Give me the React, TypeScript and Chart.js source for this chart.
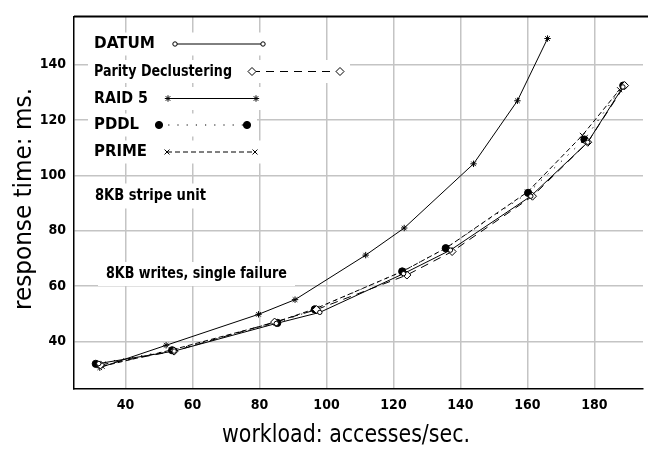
import React, { useEffect, useRef } from "react";
import { Chart, registerables } from "chart.js";
import { drawPoint } from "chart.js/helpers";

Chart.register(...registerables);

// ---- data ----
const SERIES_NAMES = ["DATUM", "Parity Declustering", "RAID 5", "PDDL", "PRIME"];

const datumX = [32.0, 54.5, 85.0, 98.0, 123.0, 137.0, 161.0, 178.0, 188.5];
const datumY = [32.0, 36.5, 46.5, 50.5, 64.5, 73.0, 92.5, 112.0, 132.0];

const parityX = [32.5, 54.5, 84.5, 97.0, 124.0, 137.5, 161.5, 178.0, 189.0];
const parityY = [31.5, 36.5, 47.0, 51.5, 64.0, 72.5, 92.5, 112.0, 132.5];

const raid5X = [32.3, 52.1, 79.7, 90.6, 111.7, 123.2, 143.9, 157.0, 166.0];
const raid5Y = [30.5, 38.6, 49.8, 55.1, 71.2, 81.0, 104.2, 127.0, 149.5];

const pddlX = [31.1, 53.9, 85.3, 96.5, 122.6, 135.6, 160.2, 177.0, 188.6];
const pddlY = [31.9, 36.8, 46.7, 51.6, 65.3, 73.7, 93.7, 113.0, 132.5];

const primeX = [33.0, 54.0, 85.0, 97.0, 123.0, 136.0, 160.0, 176.4, 187.5];
const primeY = [31.0, 37.0, 47.0, 52.0, 65.5, 74.0, 94.0, 114.5, 131.0];

const xTicks = [40, 60, 80, 100, 120, 140, 160, 180];
const yTicks = [40, 60, 80, 100, 120, 140];

const X_TITLE = "workload: accesses/sec.";
const Y_TITLE = "response time: ms.";
const NOTE_1 = "8KB stripe unit";
const NOTE_2 = "8KB writes, single failure";

const FONT = '"Liberation Sans Narrow", "DejaVu Sans Condensed", "Liberation Sans", sans-serif';

const zip = (xs: number[], ys: number[]) => xs.map((x, i) => ({ x, y: ys[i] }));

const STYLES = [
  { pointStyle: "circle", radius: 2.2, dash: [] as number[], fill: "#ffffff" },
  { pointStyle: "rectRot", radius: 4, dash: [8, 6], fill: "#ffffff" },
  { pointStyle: "star", radius: 3.2, dash: [] as number[], fill: "#000000" },
  { pointStyle: "circle", radius: 3.6, dash: [1.2, 8], fill: "#000000" },
  { pointStyle: "crossRot", radius: 3.5, dash: [5, 3], fill: "#000000" },
];
// rendered widths of the legend labels in the original figure
const LEGEND_WIDTHS = [61, 138, 54, 45, 53];

// draw text fitted to a given width, anchored left at x
function fitted(ctx: CanvasRenderingContext2D, text: string, x: number, y: number, w: number) {
  const sx = w / ctx.measureText(text).width;
  ctx.save();
  ctx.translate(x, y);
  ctx.scale(sx, 1);
  ctx.textAlign = "left";
  ctx.fillText(text, 0, 0);
  ctx.restore();
}

const overlayPlugin = {
  id: "overlay",
  afterDatasetsDraw(chart: any) {
    const ctx = chart.ctx as CanvasRenderingContext2D;
    const area = chart.chartArea;
    ctx.save();

    // top frame line
    ctx.strokeStyle = "#000";
    ctx.lineWidth = 2;
    ctx.beginPath();
    ctx.moveTo(area.left, area.top);
    ctx.lineTo(chart.width, area.top);
    ctx.stroke();

    // legend
    const legendX = 94;
    const rowCenters = [44, 71.5, 98.5, 125, 152];
    ctx.font = `bold 16px ${FONT}`;
    ctx.textBaseline = "middle";
    SERIES_NAMES.forEach((name, i) => {
      const st = STYLES[i];
      const cy = rowCenters[i];
      const tw = LEGEND_WIDTHS[i];
      const s0 = legendX + tw + 20;
      const s1 = s0 + 88;
      ctx.fillStyle = "#fff";
      ctx.fillRect(88, cy - 11.5, s1 + 10 - 88, 23);
      ctx.fillStyle = "#000";
      fitted(ctx, name, legendX, cy, tw);
      ctx.strokeStyle = "#000";
      ctx.lineWidth = 1;
      ctx.setLineDash(st.dash);
      ctx.beginPath();
      ctx.moveTo(s0, cy);
      ctx.lineTo(s1, cy);
      ctx.stroke();
      ctx.setLineDash([]);
      for (const px of [s0, s1]) {
        ctx.fillStyle = st.fill;
        ctx.strokeStyle = "#000";
        ctx.lineWidth = 1;
        drawPoint(ctx, { pointStyle: st.pointStyle as any, radius: st.radius, rotation: 0, borderWidth: 1 }, px, cy);
      }
    });

    // notes
    const note = (text: string, x: number, cy: number, w: number, padL: number, padR: number, h: number) => {
      ctx.fillStyle = "#fff";
      ctx.fillRect(x - padL, cy - h / 2, w + padL + padR, h);
      ctx.fillStyle = "#000";
      fitted(ctx, text, x, cy, w);
    };
    note(NOTE_1, 95, 196, 111, 7, 7, 25);
    note(NOTE_2, 106, 274, 181, 8, 8, 24);

    // axis titles
    ctx.fillStyle = "#000";
    ctx.font = `25px ${FONT}`;
    ctx.textBaseline = "alphabetic";
    fitted(ctx, X_TITLE, 222, 442, 248);
    ctx.save();
    ctx.translate(31, 310);
    ctx.rotate(-Math.PI / 2);
    fitted(ctx, Y_TITLE, 0, 0, 222);
    ctx.restore();

    ctx.restore();
  },
};

export default function App() {
  const ref = useRef<HTMLCanvasElement | null>(null);
  useEffect(() => {
    if (!ref.current) return;
    const datasets = [
      zip(datumX, datumY),
      zip(parityX, parityY),
      zip(raid5X, raid5Y),
      zip(pddlX, pddlY),
      zip(primeX, primeY),
    ].map((data, i) => ({
      label: SERIES_NAMES[i],
      data,
      borderColor: "#000",
      backgroundColor: STYLES[i].fill,
      pointBackgroundColor: STYLES[i].fill,
      pointBorderColor: "#000",
      pointBorderWidth: 1,
      pointStyle: STYLES[i].pointStyle as any,
      pointRadius: STYLES[i].radius,
      borderWidth: 1,
      borderDash: STYLES[i].dash,
      tension: 0,
      fill: false,
    }));
    const chart = new Chart(ref.current, {
      type: "line",
      data: { datasets },
      plugins: [overlayPlugin],
      options: {
        animation: false,
        responsive: false,
        devicePixelRatio: 1,
        layout: { padding: { top: 5, right: 0, left: 0, bottom: 0 } },
        plugins: { legend: { display: false }, tooltip: { enabled: false } },
        scales: {
          x: {
            type: "linear",
            min: 24.6,
            max: 194.5,
            afterFit: (s: any) => { s.height = 64; },
            afterBuildTicks: (s: any) => { s.ticks = xTicks.map((v) => ({ value: v })); },
            ticks: { color: "#000", padding: 8, font: { family: FONT, size: 14, weight: "bold" } },
            grid: { color: "#c4c4c4", lineWidth: 1.5, drawTicks: false },
            border: { color: "#000", width: 1.5 },
          },
          y: {
            type: "linear",
            min: 22.8,
            max: 157.5,
            afterFit: (s: any) => { s.width = 74; },
            afterBuildTicks: (s: any) => { s.ticks = yTicks.map((v) => ({ value: v })); },
            ticks: { color: "#000", padding: 8, font: { family: FONT, size: 14, weight: "bold" } },
            grid: { color: "#c4c4c4", lineWidth: 1.5, drawTicks: false },
            border: { color: "#000", width: 1.5 },
          },
        },
      },
    });
    return () => chart.destroy();
  }, []);
  return (
    <div style={{ position: "absolute", left: 0, top: 0, width: 648, height: 453, background: "#fff" }}>
      <canvas ref={ref} width={648} height={453} />
    </div>
  );
}
